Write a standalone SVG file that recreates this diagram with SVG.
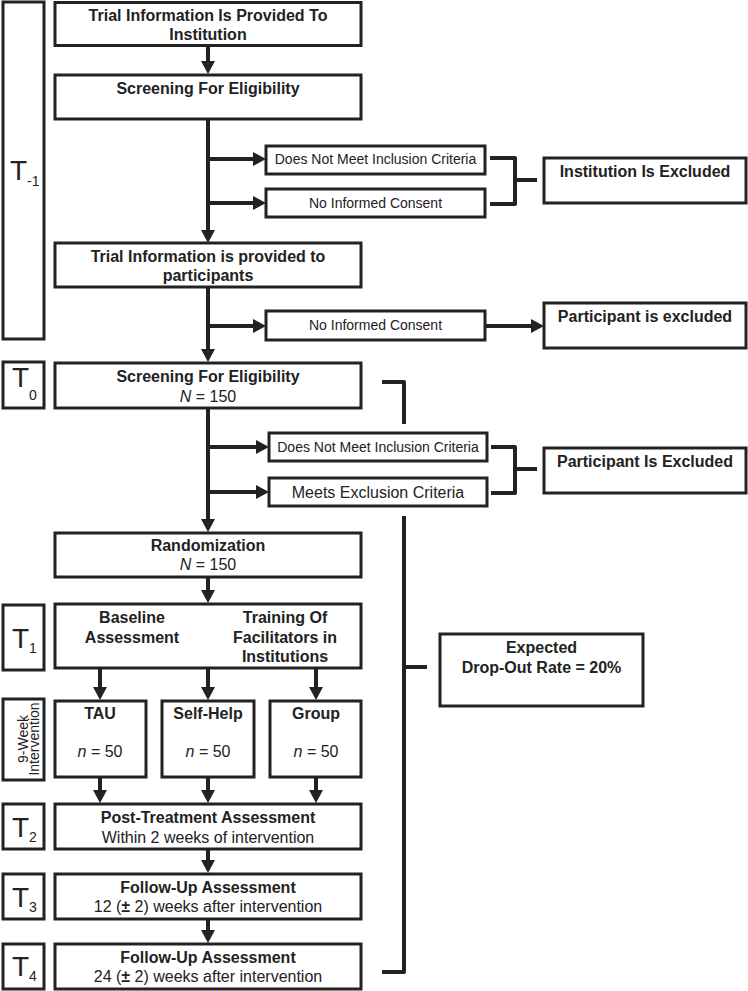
<svg xmlns="http://www.w3.org/2000/svg" width="748" height="991" viewBox="0 0 748 991">
<defs>
<marker id="ah" markerUnits="userSpaceOnUse" markerWidth="13" markerHeight="14" refX="6" refY="7" orient="auto">
<path d="M0,0 L13,7 L0,14 z" fill="#222"/>
</marker>
<style>
rect{fill:#fff;stroke:#222;stroke-width:3}
text{font-family:"Liberation Sans",Arial,sans-serif;fill:#222}
.b{font-size:16px;font-weight:bold;text-anchor:middle}
.r{font-size:16px;text-anchor:middle}
.s{font-size:14px;text-anchor:middle}
.t{font-size:28px}
.sub{font-size:14px}
.c{fill:none;stroke:#222;stroke-width:4}
.a{fill:none;stroke:#222;stroke-width:4;marker-end:url(#ah)}
.br{fill:none;stroke:#222;stroke-width:4;stroke-linejoin:round}
</style>
</defs>
<rect x="0" y="0" width="748" height="991" style="fill:#fff;stroke:none"/>

<g id="connectors">
<path class="a" d="M208,46 V67"/>
<path class="c" d="M208,119 V235"/>
<path class="a" d="M208,235 V236"/>
<path class="a" d="M208,159 H259"/>
<path class="a" d="M208,203 H259"/>
<path class="c" d="M208,288 V354"/>
<path class="a" d="M208,354 V355"/>
<path class="a" d="M208,326 H259"/>
<path class="a" d="M486,326 H537"/>
<path class="c" d="M208,409 V524"/>
<path class="a" d="M208,524 V525"/>
<path class="a" d="M208,447 H262"/>
<path class="a" d="M208,492 H262"/>
<path class="a" d="M208,578 V596"/>
<path d="M208,605 V667" fill="none" stroke="#222" stroke-width="3" stroke-dasharray="8,4"/>
<path class="a" d="M100,668 V693"/>
<path class="a" d="M208,668 V693"/>
<path class="a" d="M316,668 V693"/>
<path class="a" d="M100,778 V796"/>
<path class="a" d="M208,778 V796"/>
<path class="a" d="M316,778 V796"/>
<path class="a" d="M208,850 V866"/>
<path class="a" d="M208,919 V936"/>
<path class="br" d="M490,158 H515 V204 H490 M515,180 H537"/>
<path class="br" d="M491,447 H515 V493 H491 M515,469 H537"/>
<path class="br" d="M382,382 H404 V424 M404,516 V972 H382 M404,667 H427"/>
</g>

<g id="tm1"><rect x="3" y="2" width="41" height="337"/><text class="t" x="10" y="180">T<tspan class="sub" font-size="14" dy="6">-1</tspan></text></g>
<g id="t0"><rect x="3" y="362" width="41" height="46"/><text class="t" x="12" y="387">T<tspan class="sub" dy="13">0</tspan></text></g>
<g id="t1"><rect x="3" y="605" width="41" height="65"/><text class="t" x="12" y="648">T<tspan class="sub" dy="5">1</tspan></text></g>
<g id="t9"><rect x="3" y="699" width="41" height="81"/><text font-size="14" text-anchor="middle" transform="translate(22,739) rotate(-90)"><tspan x="0" y="6">9-Week</tspan><tspan x="0" y="17">Intervention</tspan></text></g>
<g id="t2"><rect x="3" y="804" width="41" height="45"/><text class="t" x="12" y="837">T<tspan class="sub" dy="5">2</tspan></text></g>
<g id="t3"><rect x="3" y="874" width="41" height="45"/><text class="t" x="12" y="907">T<tspan class="sub" dy="5">3</tspan></text></g>
<g id="t4"><rect x="3" y="944" width="41" height="45"/><text class="t" x="12" y="976">T<tspan class="sub" dy="5">4</tspan></text></g>

<g id="n1"><rect x="55" y="2.5" width="306" height="43"/><text class="b" x="208" y="21">Trial Information Is Provided To</text><text class="b" x="208" y="40">Institution</text></g>
<g id="n2"><rect x="55" y="75" width="306" height="44"/><text class="b" x="208" y="94">Screening For Eligibility</text></g>
<g id="n3"><rect x="266" y="146" width="219" height="28"/><text class="s" x="375.5" y="164">Does Not Meet Inclusion Criteria</text></g>
<g id="n4"><rect x="266" y="189" width="219" height="28"/><text class="s" x="375.5" y="208">No Informed Consent</text></g>
<g id="n5"><rect x="544" y="158" width="202" height="45"/><text class="b" x="645" y="177">Institution Is Excluded</text></g>
<g id="n6"><rect x="55" y="243" width="306" height="44"/><text class="b" x="208" y="262">Trial Information is provided to</text><text class="b" x="208" y="281">participants</text></g>
<g id="n7"><rect x="266" y="311" width="219" height="29"/><text class="s" x="375.5" y="330">No Informed Consent</text></g>
<g id="n8"><rect x="544" y="303" width="202" height="45"/><text class="b" x="645" y="322">Participant is excluded</text></g>
<g id="n9"><rect x="55" y="363" width="306" height="45"/><text class="b" x="208" y="382">Screening For Eligibility</text><text class="r" x="208" y="402"><tspan font-style="italic">N</tspan> = 150</text></g>
<g id="n10"><rect x="269" y="433" width="218" height="28"/><text class="s" x="378" y="452">Does Not Meet Inclusion Criteria</text></g>
<g id="n11"><rect x="269" y="478" width="218" height="28"/><text class="r" x="378" y="498">Meets Exclusion Criteria</text></g>
<g id="n12"><rect x="544" y="448" width="202" height="45"/><text class="b" x="645" y="467">Participant Is Excluded</text></g>
<g id="n13"><rect x="55" y="533" width="306" height="44"/><text class="b" x="208" y="551">Randomization</text><text class="r" x="208" y="570"><tspan font-style="italic">N</tspan> = 150</text></g>
<g id="n14"><rect x="55" y="604" width="306" height="64"/><text class="b" x="132" y="623">Baseline</text><text class="b" x="132" y="643">Assessment</text><text class="b" x="285" y="623">Training Of</text><text class="b" x="285" y="643">Facilitators in</text><text class="b" x="285" y="662">Institutions</text></g>
<g id="n15"><rect x="55" y="701" width="91" height="76"/><text class="b" x="100" y="719">TAU</text><text class="r" x="100" y="757"><tspan font-style="italic">n</tspan> = 50</text></g>
<g id="n16"><rect x="162" y="701" width="92" height="76"/><text class="b" x="208" y="719">Self-Help</text><text class="r" x="208" y="757"><tspan font-style="italic">n</tspan> = 50</text></g>
<g id="n17"><rect x="270" y="701" width="91" height="76"/><text class="b" x="316" y="719">Group</text><text class="r" x="316" y="757"><tspan font-style="italic">n</tspan> = 50</text></g>
<g id="n18"><rect x="440" y="634" width="203" height="72"/><text class="b" x="541.5" y="653">Expected</text><text class="b" x="541.5" y="673">Drop-Out Rate = 20%</text></g>
<g id="n19"><rect x="55" y="804" width="306" height="45"/><text class="b" x="208" y="823">Post-Treatment Assessment</text><text class="r" x="208" y="843">Within 2 weeks of intervention</text></g>
<g id="n20"><rect x="55" y="874" width="306" height="45"/><text class="b" x="208" y="893">Follow-Up Assessment</text><text class="r" x="208" y="912">12 (<tspan font-weight="bold">±</tspan> 2) weeks after intervention</text></g>
<g id="n21"><rect x="55" y="944" width="306" height="45"/><text class="b" x="208" y="963">Follow-Up Assessment</text><text class="r" x="208" y="982">24 (<tspan font-weight="bold">±</tspan> 2) weeks after intervention</text></g>
</svg>
